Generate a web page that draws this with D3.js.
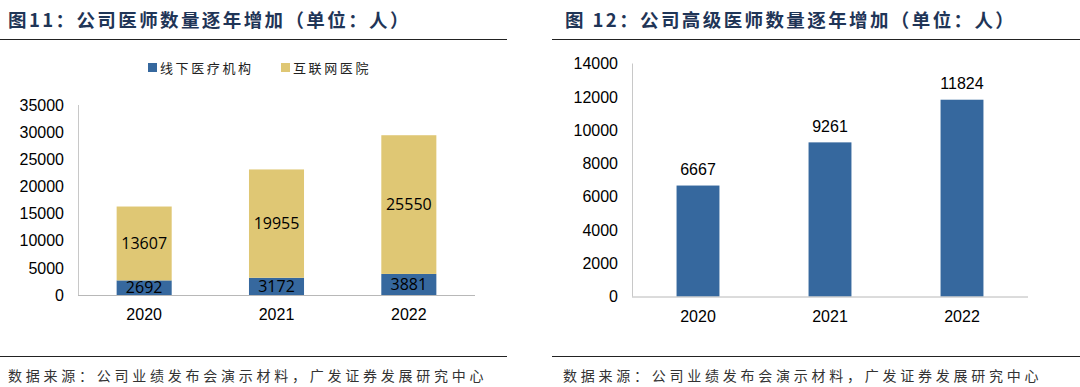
<!DOCTYPE html>
<html>
<head>
<meta charset="utf-8">
<script src="https://cdn.jsdelivr.net/npm/d3@7"></script>
<style>
  html, body { margin: 0; padding: 0; background: #fff; }
  svg { display: block; }
</style>
</head>
<body>
<div id="chart"></div>
<script>
// data
const years = ['2020', '2021', '2022'];
const offlineDoctors = [2692, 3172, 3881];
const onlineDoctors = [13607, 19955, 25550];
const seniorDoctors = [6667, 9261, 11824];
const leftTicks = [0, 5000, 10000, 15000, 20000, 25000, 30000, 35000];
const rightTicks = [0, 2000, 4000, 6000, 8000, 10000, 12000, 14000];
const seriesNames = ['线下医疗机构', '互联网医院'];

const BLUE = '#36689e';
const YELLOW = '#dfc774';
const TITLE_COLOR = '#1f3557';
const CJK = '"Noto Sans CJK SC", "Noto Sans", sans-serif';
const NUM = 'Arial, "Liberation Sans", sans-serif';

const svg = d3.select('#chart').append('svg')
  .attr('width', 1080)
  .attr('height', 387);

// panel frame: title, rules, source
function panelFrame(x0, x1, titleX, title, sourceX) {
  svg.append('text')
    .attr('x', titleX).attr('y', 27)
    .attr('font-family', CJK).attr('font-size', 18.5).attr('font-weight', 'bold')
    .attr('letter-spacing', 2.4)
    .attr('fill', TITLE_COLOR)
    .text(title);
  svg.append('line')
    .attr('x1', x0).attr('x2', x1).attr('y1', 39.5).attr('y2', 39.5)
    .attr('stroke', '#222').attr('stroke-width', 1.2);
  svg.append('line')
    .attr('x1', x0).attr('x2', x1).attr('y1', 356.5).attr('y2', 356.5)
    .attr('stroke', '#222').attr('stroke-width', 1.2);
  svg.append('text')
    .attr('x', sourceX).attr('y', 381)
    .attr('font-family', CJK).attr('font-size', 14)
    .attr('letter-spacing', 3.75)
    .attr('fill', '#333')
    .text('数据来源：公司业绩发布会演示材料，广发证券发展研究中心');
}

function drawAxes(g, x, y, ticks, labelY) {
  const [r0, r1] = x.range();
  // axis lines
  g.append('line')
    .attr('x1', r0 + 0.5).attr('x2', r0 + 0.5)
    .attr('y1', y(ticks[ticks.length - 1])).attr('y2', y(0))
    .attr('stroke', '#c8c8c8');
  g.append('line')
    .attr('x1', r0).attr('x2', r1)
    .attr('y1', y(0) + 0.5).attr('y2', y(0) + 0.5)
    .attr('stroke', '#b8b8b8');
  // tick labels
  g.selectAll('.ytick')
    .data(ticks)
    .join('text')
      .attr('class', 'ytick')
      .attr('x', r0 - 14)
      .attr('y', d => y(d))
      .attr('dy', '0.36em')
      .attr('text-anchor', 'end')
      .attr('font-family', NUM).attr('font-size', 16)
      .attr('fill', '#000')
      .text(d => d);
  g.selectAll('.xtick')
    .data(years)
    .join('text')
      .attr('class', 'xtick')
      .attr('x', d => x(d) + x.bandwidth() / 2)
      .attr('y', labelY)
      .attr('dy', '0.36em')
      .attr('text-anchor', 'middle')
      .attr('font-family', NUM).attr('font-size', 16)
      .attr('fill', '#000')
      .text(d => d);
}

// ---- left: stacked bars ----
panelFrame(0, 507, 8, '图11：公司医师数量逐年增加（单位：人）', 8);

const left = svg.append('g');
const xL = d3.scaleBand().domain(years).range([78, 475]).paddingInner(0.584).paddingOuter(0.292);
const yL = d3.scaleLinear().domain([0, 35000]).range([295, 105]);

const stackData = years.map((yr, i) => ({ year: yr, offline: offlineDoctors[i], online: onlineDoctors[i] }));
const stacked = d3.stack().keys(['offline', 'online'])(stackData);
const colors = [BLUE, YELLOW];

left.selectAll('.layer')
  .data(stacked)
  .join('g')
    .attr('class', 'layer')
    .attr('fill', (d, i) => colors[i])
  .selectAll('rect')
  .data(d => d)
  .join('rect')
    .attr('x', d => xL(d.data.year))
    .attr('y', d => yL(d[1]))
    .attr('width', xL.bandwidth())
    .attr('height', d => yL(d[0]) - yL(d[1]));

drawAxes(left, xL, yL, leftTicks, 314);

stacked.forEach(layer => {
  left.selectAll(null)
    .data(layer)
    .join('text')
      .attr('x', d => xL(d.data.year) + xL.bandwidth() / 2)
      .attr('y', d => yL((d[0] + d[1]) / 2))
      .attr('dy', '0.36em')
      .attr('text-anchor', 'middle')
      .attr('font-family', '"Open Sans", "Liberation Sans", sans-serif').attr('font-size', 16)
      .attr('fill', '#000')
      .text(d => d[1] - d[0]);
});

// legend
const legend = left.append('g').attr('transform', 'translate(148,68)');
const legendX = [0, 133];
seriesNames.forEach((name, i) => {
  legend.append('rect')
    .attr('x', legendX[i]).attr('y', -5)
    .attr('width', 9).attr('height', 9)
    .attr('fill', colors[i]);
  legend.append('text')
    .attr('x', legendX[i] + 12).attr('y', 0)
    .attr('dy', '0.36em')
    .attr('font-family', CJK).attr('font-size', 13)
    .attr('letter-spacing', 2.6)
    .attr('fill', '#222')
    .text(name);
});

// ---- right: simple bars ----
panelFrame(552, 1080, 565, '图 12：公司高级医师数量逐年增加（单位：人）', 563);

const right = svg.append('g');
const xR = d3.scaleBand().domain(years).range([632, 1028]).paddingInner(0.675).paddingOuter(0.3375);
const yR = d3.scaleLinear().domain([0, 14000]).range([296.5, 63.5]);

const seniorData = years.map((yr, i) => ({ year: yr, value: seniorDoctors[i] }));

right.selectAll('.bar')
  .data(seniorData)
  .join('rect')
    .attr('class', 'bar')
    .attr('x', d => xR(d.year))
    .attr('y', d => yR(d.value))
    .attr('width', xR.bandwidth())
    .attr('height', d => yR(0) - yR(d.value))
    .attr('fill', BLUE);

drawAxes(right, xR, yR, rightTicks, 316);

right.selectAll('.val')
  .data(seniorData)
  .join('text')
    .attr('class', 'val')
    .attr('x', d => xR(d.year) + xR.bandwidth() / 2)
    .attr('y', d => yR(d.value) - 16)
    .attr('dy', '0.36em')
    .attr('text-anchor', 'middle')
    .attr('font-family', NUM).attr('font-size', 16)
    .attr('fill', '#000')
    .text(d => d.value);
</script>
</body>
</html>
